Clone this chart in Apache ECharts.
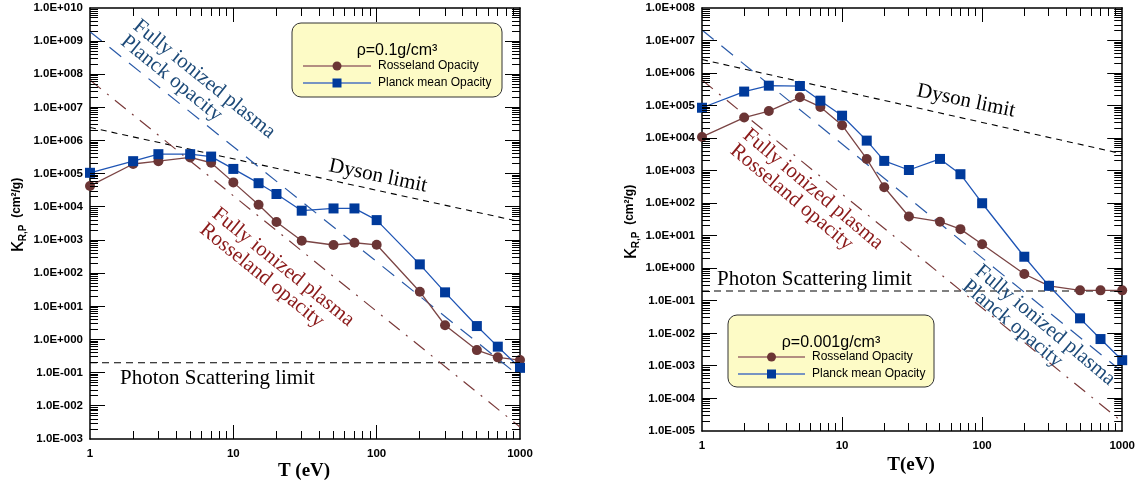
<!DOCTYPE html>
<html>
<head>
<meta charset="utf-8">
<script src="https://cdn.jsdelivr.net/npm/echarts@6/dist/echarts.min.js"></script>
<style>
  html, body { margin: 0; padding: 0; background: #fff; }
  #main { width: 1138px; height: 483px; }
</style>
</head>
<body>
<div id="main"></div>
<script>
// temperatures (eV) shared by both panels
const temps = [1, 2, 3, 5, 7, 10, 15, 20, 30, 50, 70, 100, 200, 300, 500, 700, 1000];

// rho = 0.1 g/cm3
const rossLeft = [4.3e4, 1.97e5, 2.4e5, 3.1e5, 2.15e5, 5.5e4, 1.17e4, 3.5e3, 955, 710, 830, 720, 27.7, 2.7, 0.48, 0.29, 0.24];
const planckLeft = [1.07e5, 2.4e5, 3.9e5, 3.9e5, 3.3e5, 1.4e5, 5.2e4, 2.45e4, 7.7e3, 9.0e3, 9.0e3, 4.0e3, 185, 26.5, 2.55, 0.61, 0.14];

// rho = 0.001 g/cm3
const rossRight = [1.09e4, 4.3e4, 6.8e4, 1.8e5, 9.1e4, 2.5e4, 2.3e3, 310, 39, 27, 16, 5.5, 0.67, 0.29, 0.21, 0.21, 0.21];
const planckRight = [8.6e4, 2.7e5, 4.1e5, 4.0e5, 1.42e5, 4.9e4, 8.4e3, 2.0e3, 1.05e3, 2.3e3, 780, 100, 2.27, 0.29, 0.029, 6.7e-3, 1.5e-3];

// limit lines, end points [T, kappa]
const dysonLeft = [[1, 2.5e6], [1000, 3.6e3]];
const dysonRight = [[1, 2.6e6], [1000, 3.3e3]];
const scatterLeft = [[1, 0.2], [1000, 0.2]];
const scatterRight = [[1, 0.2], [1000, 0.2]];
const planckIonLeft = [[1, 1.93e9], [1000, 0.076]];
const rossIonLeft = [[1, 6.7e7], [1000, 2.3e-3]];
const planckIonRight = [[1, 2.1e7], [1000, 6.6e-4]];
const rossIonRight = [[1, 6.1e5], [1000, 1.9e-5]];

// axis ranges
const xRange = [1, 1000];
const yRangeLeft = [1e-3, 1e10];
const yRangeRight = [1e-5, 1e8];

const SANS = '"Liberation Sans", Arial, sans-serif';
const SERIF = '"Liberation Serif", "Times New Roman", serif';
const BLUE = '#1f55b5', BLUE_DARK = '#003a9b';
const BROWN = '#7b4545', BROWN_DARK = '#6b3535';

const myChart = echarts.init(document.getElementById('main'));

function pairs(xs, ys) { return xs.map((x, i) => [x, ys[i]]); }

function expLabel(v) {
  const e = Math.round(Math.log10(v));
  return '1.0E' + (e < 0 ? '-' : '+') + String(Math.abs(e)).padStart(3, '0');
}

function minorValues(lo, hi) {
  const out = [];
  for (let e = lo; e < hi; e++) for (let m = 2; m <= 9; m++) out.push(m * Math.pow(10, e));
  return out;
}
function decades(lo, hi) {
  const out = [];
  for (let e = lo + 1; e < hi; e++) out.push(Math.pow(10, e));
  return out;
}

const axisLine = { show: true, onZero: false, lineStyle: { color: '#000', width: 1.5 } };
const labelStyle = { color: '#000', fontFamily: SANS, fontWeight: 'bold', fontSize: 11.5 };

function xAxes(grid) {
  const base = { gridIndex: grid, type: 'log', logBase: 10, min: xRange[0], max: xRange[1],
    splitLine: { show: false }, axisTick: { show: false }, axisLine: axisLine };
  return [
    Object.assign({}, base, { position: 'bottom', axisLabel: Object.assign({ margin: 9, formatter: v => String(Math.round(v)) }, labelStyle) }),
    Object.assign({}, base, { position: 'top', axisLabel: { show: false } })
  ];
}

function yAxes(grid, range) {
  const base = { gridIndex: grid, type: 'log', logBase: 10, min: range[0], max: range[1], interval: 1,
    splitLine: { show: false }, axisTick: { show: false }, axisLine: axisLine };
  return [
    Object.assign({}, base, { position: 'left', axisLabel: Object.assign({ margin: 7, formatter: expLabel }, labelStyle) }),
    Object.assign({}, base, { position: 'right', axisLabel: { show: false } })
  ];
}

// all inside ticks (major and minor, on the four sides) drawn through the axis scales
function tickSeries(axisIdx, yRange) {
  const ylo = Math.round(Math.log10(yRange[0])), yhi = Math.round(Math.log10(yRange[1]));
  const data = [];
  minorValues(0, 3).forEach(v => data.push([v, yRange[0], 0, 8]));
  decades(0, 3).forEach(v => data.push([v, yRange[0], 0, 14]));
  minorValues(ylo, yhi).forEach(v => data.push([xRange[0], v, 1, 8]));
  decades(ylo, yhi).forEach(v => data.push([xRange[0], v, 1, 15]));
  return {
    type: 'custom', xAxisIndex: axisIdx, yAxisIndex: axisIdx, silent: true, clip: false, z: 10,
    dimensions: ['x', 'y', 'k', 'len'], encode: { x: 0, y: 1 }, data: data,
    renderItem: function (params, api) {
      const len = api.value(3);
      const st = { fill: '#000' };
      if (api.value(2) === 0) {
        const v = api.value(0);
        const b = api.coord([v, yRange[0]]), t = api.coord([v, yRange[1]]);
        const px = Math.floor(b[0]);
        return { type: 'group', children: [
          { type: 'rect', shape: { x: px, y: b[1] - len, width: 1, height: len }, style: st },
          { type: 'rect', shape: { x: px, y: t[1], width: 1, height: len }, style: st }
        ] };
      }
      const v = api.value(1);
      const l = api.coord([xRange[0], v]), r = api.coord([xRange[1], v]);
      const py = Math.floor(l[1]);
      return { type: 'group', children: [
        { type: 'rect', shape: { x: l[0], y: py, width: len, height: 1 }, style: st },
        { type: 'rect', shape: { x: r[0] - len, y: py, width: len, height: 1 }, style: st }
      ] };
    }
  };
}

function refLine(name, data, idx, color, dash, width) {
  return { name: name, type: 'line', xAxisIndex: idx, yAxisIndex: idx, data: data, symbol: 'none', silent: true, z: 2,
    lineStyle: { color: color, width: width || 1.2, type: dash } };
}

function dataLine(name, data, idx, lineColor, fill, symbol, size) {
  return { name: name, type: 'line', xAxisIndex: idx, yAxisIndex: idx, data: data, symbol: symbol, symbolSize: size, z: 5,
    lineStyle: { color: lineColor, width: 1.3 }, itemStyle: { color: fill, borderWidth: 0 } };
}

function note(text, x, y, deg, color) {
  return { type: 'text', x: x, y: y, rotation: -deg * Math.PI / 180, z: 10,
    style: { text: text, fill: color, fontFamily: SERIF, fontSize: 21, lineHeight: 20, align: 'left', verticalAlign: 'top' } };
}

function centered(text, x, y, deg, size, weight) {
  return { type: 'text', x: x, y: y, rotation: -deg * Math.PI / 180, z: 10,
    style: { text: text, fill: '#000', fontFamily: SERIF, fontSize: size, fontWeight: weight || 'normal', align: 'center', verticalAlign: 'middle' } };
}

function yTitle(x, y) {
  return { type: 'text', x: x, y: y, rotation: Math.PI / 2, z: 10,
    style: { text: '{k|κ}{s|R,P}  {u|(cm²/g)}', align: 'center', verticalAlign: 'middle',
      rich: {
        k: { fontSize: 22, fontFamily: SANS, fill: '#000' },
        s: { fontSize: 10, fontFamily: SANS, fontWeight: 'bold', fill: '#000', verticalAlign: 'bottom' },
        u: { fontSize: 12, fontFamily: SANS, fontWeight: 'bold', fill: '#000' }
      } } };
}

function legendBox(x, y, w, h, title, lineX0, lineX1, rowY0, rowY1) {
  const mid = (lineX0 + lineX1) / 2;
  const txt = (t, ty) => ({ type: 'text', x: lineX1 + 7, y: ty, style: { text: t, fill: '#000', fontFamily: SANS, fontSize: 12, align: 'left', verticalAlign: 'middle' } });
  return { type: 'group', z: 20, children: [
    { type: 'rect', shape: { x: x, y: y, width: w, height: h, r: 9 }, style: { fill: '#fdfbc6', stroke: '#333', lineWidth: 1 } },
    { type: 'text', x: x + w / 2, y: y + 28, style: { text: title, fill: '#000', fontFamily: SANS, fontSize: 16, align: 'center', verticalAlign: 'middle' } },
    { type: 'line', shape: { x1: lineX0, y1: rowY0, x2: lineX1, y2: rowY0 }, style: { stroke: '#9a6a6a', lineWidth: 1.3 } },
    { type: 'circle', shape: { cx: mid, cy: rowY0, r: 4.5 }, style: { fill: BROWN_DARK } },
    txt('Rosseland Opacity', rowY0),
    { type: 'line', shape: { x1: lineX0, y1: rowY1, x2: lineX1, y2: rowY1 }, style: { stroke: '#4a72c0', lineWidth: 1.3 } },
    { type: 'rect', shape: { x: mid - 4.5, y: rowY1 - 4.5, width: 9, height: 9 }, style: { fill: BLUE_DARK } },
    txt('Planck mean Opacity', rowY1)
  ] };
}

const option = {
  animation: false,
  backgroundColor: '#fff',
  grid: [
    { left: 90, top: 8, width: 430, height: 431 },
    { left: 702, top: 8, width: 423, height: 423 }
  ],
  xAxis: xAxes(0).concat(xAxes(1)),
  yAxis: yAxes(0, yRangeLeft).concat(yAxes(1, yRangeRight)),
  series: [
    refLine('Dyson limit', dysonLeft, 0, '#000', [6, 5], 1.1),
    refLine('Photon Scattering limit', scatterLeft, 0, '#000', [7, 5], 1.1),
    refLine('Fully ionized Planck', planckIonLeft, 0, '#2a5aa8', [15, 10]),
    refLine('Fully ionized Rosseland', rossIonLeft, 0, '#7a3a3a', [14, 8, 2, 8]),
    dataLine('Rosseland Opacity', pairs(temps, rossLeft), 0, BROWN, BROWN_DARK, 'circle', 10),
    dataLine('Planck mean Opacity', pairs(temps, planckLeft), 0, BLUE, BLUE_DARK, 'rect', 10),
    refLine('Dyson limit', dysonRight, 2, '#000', [6, 5], 1.1),
    refLine('Photon Scattering limit', scatterRight, 2, '#000', [7, 5], 1.1),
    refLine('Fully ionized Planck', planckIonRight, 2, '#2a5aa8', [15, 10]),
    refLine('Fully ionized Rosseland', rossIonRight, 2, '#7a3a3a', [14, 8, 2, 8]),
    dataLine('Rosseland Opacity', pairs(temps, rossRight), 2, BROWN, BROWN_DARK, 'circle', 10),
    dataLine('Planck mean Opacity', pairs(temps, planckRight), 2, BLUE, BLUE_DARK, 'rect', 10),
    tickSeries(0, yRangeLeft),
    tickSeries(2, yRangeRight)
  ],
  graphic: [
    yTitle(17, 215),
    yTitle(630, 222),
    centered('T (eV)', 304, 471, 0, 19, 'bold'),
    centered('T(eV)', 911, 465, 0, 19, 'bold'),
    note('Fully ionized plasma\nPlanck opacity', 142, 16, 39, '#1d4a78'),
    note('Fully ionized plasma\nRosseland opacity', 221, 204, 39, '#8b1a1a'),
    note('Fully ionized plasma\nRosseland opacity', 752, 125, 40, '#8b1a1a'),
    note('Fully ionized plasma\nPlanck opacity', 984, 261, 40, '#1d4a78'),
    centered('Dyson limit', 378, 176, 12, 21),
    centered('Dyson limit', 966, 101, 12, 21),
    { type: 'text', x: 120, y: 378, z: 10, style: { text: 'Photon Scattering limit', fill: '#000', fontFamily: SERIF, fontSize: 21, align: 'left', verticalAlign: 'middle' } },
    { type: 'text', x: 717, y: 279, z: 10, style: { text: 'Photon Scattering limit', fill: '#000', fontFamily: SERIF, fontSize: 21, align: 'left', verticalAlign: 'middle' } },
    legendBox(292, 23, 210, 74, 'ρ=0.1g/cm³', 303, 371, 66, 83),
    legendBox(728, 315, 206, 72, 'ρ=0.001g/cm³', 738, 805, 357, 374)
  ]
};

myChart.setOption(option);
</script>
</body>
</html>
